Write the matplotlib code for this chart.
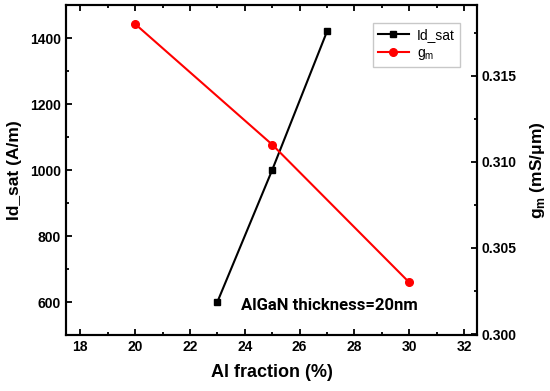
import matplotlib
matplotlib.use("Agg")
import matplotlib.pyplot as plt
from matplotlib.ticker import MultipleLocator

plt.rcParams['font.family'] = ['Liberation Sans', 'DejaVu Sans']

al_id = [23, 25, 27]
id_sat = [600, 1000, 1420]
al_gm = [20, 25, 30]
gm = [0.318, 0.311, 0.303]

fig = plt.figure(figsize=(5.5, 3.91), dpi=100)
ax = fig.add_axes([66/550, 56/391, 411/550, 330/391])
ax2 = ax.twinx()

l1, = ax.plot(al_id, id_sat, color='black', marker='s', markersize=5, lw=1.5, label='Id_sat')
l2, = ax2.plot(al_gm, gm, color='red', marker='o', markersize=5.5, lw=1.5, label='g$_\\mathregular{m}$')

ax.set_xlim(17.48, 32.47)
ax.set_ylim(500, 1500)
ax2.set_ylim(0.29995, 0.3191)

ax.xaxis.set_major_locator(MultipleLocator(2))
ax.xaxis.set_minor_locator(MultipleLocator(1))
ax.yaxis.set_major_locator(MultipleLocator(200))
ax.yaxis.set_minor_locator(MultipleLocator(100))
ax2.yaxis.set_major_locator(MultipleLocator(0.005))
ax2.yaxis.set_minor_locator(MultipleLocator(0.0025))
ax2.yaxis.set_major_formatter(matplotlib.ticker.FormatStrFormatter('%.3f'))

ax.tick_params(axis='x', which='both', direction='in', top=True, width=1.3)
ax.tick_params(axis='y', which='both', direction='in', right=False, width=1.3)
ax.tick_params(which='major', length=4, labelsize=10)
ax.tick_params(which='minor', length=2)
ax2.tick_params(axis='y', which='both', direction='in', width=1.3)
ax2.tick_params(which='major', length=4, labelsize=10)
ax2.tick_params(which='minor', length=2)

for a in (ax, ax2):
    for s in a.spines.values():
        s.set_linewidth(1.5)
    for lab in a.get_xticklabels() + a.get_yticklabels():
        lab.set_fontweight('bold')

ax.set_xlabel('Al fraction (%)', fontsize=13, fontweight='bold', labelpad=7)
ax.set_ylabel('Id_sat (A/m)', fontsize=12.5, fontweight='bold', labelpad=6)
ax2.set_ylabel('g$_\\mathregular{m}$ (mS/μm)', fontsize=12.5, fontweight='bold', labelpad=8)

ax.text(0.642, 0.09, 'AlGaN thickness=20nm', transform=ax.transAxes, ha='center', va='center',
        fontsize=12, fontweight='bold', family=['Roboto', 'DejaVu Sans'])

leg = ax.legend(handles=[l1, l2], loc='upper right', bbox_to_anchor=(0.975, 0.965), fontsize=10,
                fancybox=False, edgecolor='#bbbbbb', handlelength=2.2, borderpad=0.35,
                labelspacing=0.25, handletextpad=0.6)

fig.savefig('out.png', dpi=100)
